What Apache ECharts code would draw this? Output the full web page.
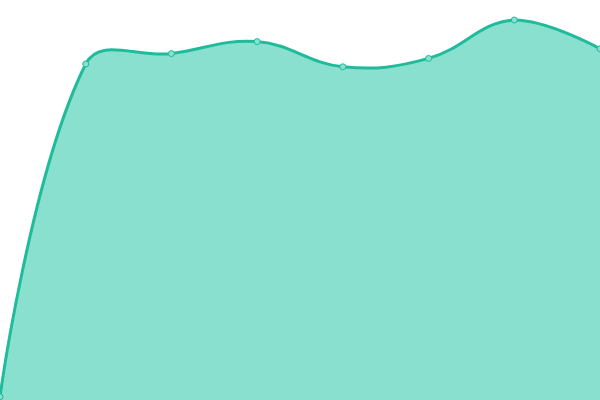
<!DOCTYPE html>
<html>
    <head>
        <meta charset="utf-8"/>
        <script src="https://cdn.jsdelivr.net/npm/echarts@6.0.0/dist/echarts.min.js"></script>
    </head>
	<body style="margin:0">
        <div id="main" style="width: 600px;height: 400px;"></div>
		<script>
			// 数据
			var categories = ['A', 'B', 'C', 'D', 'E', 'F', 'G', 'H'];
			var values = [0.8, 84, 86.6, 89.6, 83.3, 85.4, 95, 87.8];

			var SMOOTH = 0.4;
			var lineColor = '#1fbb9b';
			var areaColor = '#89e0cf';

			// 旧版 zrender 的 bezier 平滑（允许越过相邻点，受整体包围盒约束）
			function smoothCps(pts) {
			  var min = [Infinity, Infinity], max = [-Infinity, -Infinity];
			  pts.forEach(function (p) {
				min[0] = Math.min(min[0], p[0]); min[1] = Math.min(min[1], p[1]);
				max[0] = Math.max(max[0], p[0]); max[1] = Math.max(max[1], p[1]);
			  });
			  var cps = [];
			  for (var i = 0; i < pts.length; i++) {
				var p = pts[i];
				if (i === 0 || i === pts.length - 1) {
				  cps.push([p[0], p[1]]);
				  continue;
				}
				var prev = pts[i - 1], next = pts[i + 1];
				var vx = (next[0] - prev[0]) * SMOOTH, vy = (next[1] - prev[1]) * SMOOTH;
				var d0 = Math.hypot(p[0] - prev[0], p[1] - prev[1]);
				var d1 = Math.hypot(p[0] - next[0], p[1] - next[1]);
				var sum = d0 + d1;
				if (sum !== 0) { d0 /= sum; d1 /= sum; }
				var cp0 = [p[0] - vx * d0, p[1] - vy * d0];
				var cp1 = [p[0] + vx * d1, p[1] + vy * d1];
				[cp0, cp1].forEach(function (c) {
				  c[0] = Math.min(Math.max(c[0], min[0]), max[0]);
				  c[1] = Math.min(Math.max(c[1], min[1]), max[1]);
				});
				cps.push(cp0, cp1);
			  }
			  return cps;
			}

			function renderItem(params, api) {
			  var children = [];
			  if (params.dataIndex === 0) {
				var pts = values.map(function (v, i) { return api.coord([i, v]); });
				var cps = smoothCps(pts);
				var d = 'M' + pts[0][0] + ' ' + pts[0][1];
				for (var i = 0; i < pts.length - 1; i++) {
				  var c0 = cps[i * 2], c1 = cps[i * 2 + 1], p = pts[i + 1];
				  d += ' C' + c0[0] + ' ' + c0[1] + ' ' + c1[0] + ' ' + c1[1] + ' ' + p[0] + ' ' + p[1];
				}
				var base = api.coord([0, 0])[1];
				var last = pts[pts.length - 1];
				var area = d + ' L' + last[0] + ' ' + base + ' L' + pts[0][0] + ' ' + base + ' Z';
				children.push({
				  type: 'path',
				  shape: { pathData: area },
				  style: { fill: areaColor, stroke: null }
				});
				children.push({
				  type: 'path',
				  shape: { pathData: d },
				  style: { fill: null, stroke: lineColor, lineWidth: 3 }
				});
			  }
			  var pt = api.coord([params.dataIndex, api.value(1)]);
			  children.push({
				type: 'circle',
				shape: { cx: pt[0], cy: pt[1], r: 3 },
				style: { fill: '#8ae0cf', stroke: lineColor, lineWidth: 1 }
			  });
			  return { type: 'group', children: children };
			}

			var myChart = echarts.init(document.getElementById('main'));
			myChart.setOption({
			  animation: false,
			  grid: { left: 0, right: 0, top: 0, bottom: 0 },
			  xAxis: {
				type: 'category',
				boundaryGap: false,
				data: categories,
				show: false
			  },
			  yAxis: {
				type: 'value',
				min: 0,
				max: 100,
				show: false
			  },
			  series: [
				{
				  type: 'custom',
				  renderItem: renderItem,
				  clip: false,
				  data: values.map(function (v, i) { return [i, v]; })
				}
			  ]
			});
		</script>
  </body>
</html>
